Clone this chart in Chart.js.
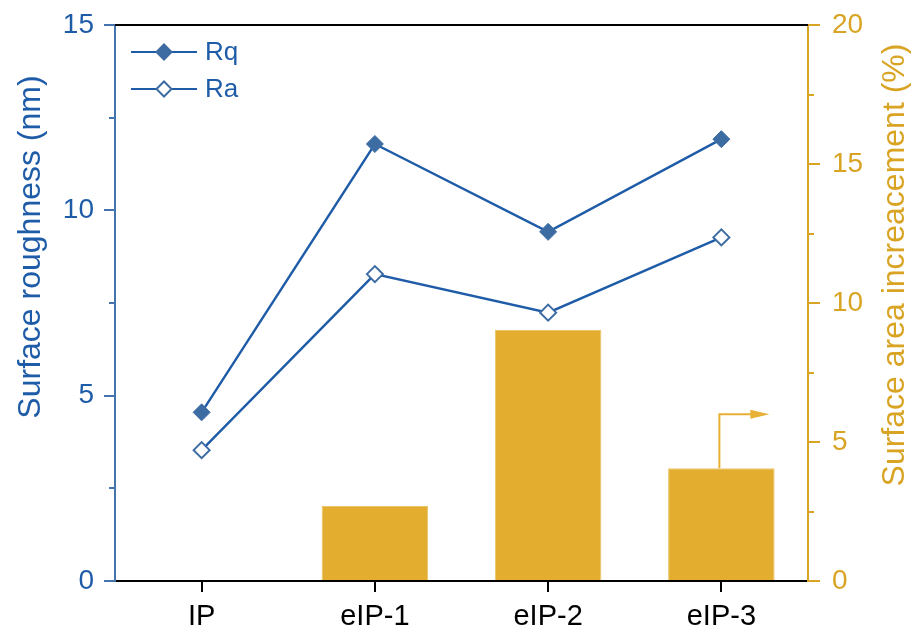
<!DOCTYPE html>
<html>
<head>
<meta charset="utf-8">
<script src="https://cdn.jsdelivr.net/npm/chart.js@4.4.1/dist/chart.umd.min.js"></script>
<style>
  html, body { margin: 0; padding: 0; background: #ffffff; }
  #wrap { width: 920px; height: 637px; }
</style>
</head>
<body>
<div id="wrap"><canvas id="c" width="920" height="637"></canvas></div>
<script>
// Sample categories and measured values
const categories = ['IP', 'eIP-1', 'eIP-2', 'eIP-3'];
const rqValues = [4.55, 11.79, 9.42, 11.92];      // nm
const raValues = [3.53, 8.28, 7.24, 9.27];        // nm
const areaIncrease = [0, 2.70, 9.03, 4.06];       // %
const roughnessTicks = [0, 5, 10, 15];
const roughnessMinorTicks = [2.5, 7.5, 12.5];
const areaTicks = [0, 5, 10, 15, 20];
const areaMinorTicks = [2.5, 7.5, 12.5, 17.5];

const FONT = "'Liberation Sans', Arial, Helvetica, sans-serif";
const BLUE_LINE = '#1f5ca8';
const BLUE_MARK = '#3d6ca3';
const BLUE_TEXT = '#1f5ca8';
const BLUE_AXIS = '#4374ad';
const GOLD_BAR = '#e3ae2f';
const GOLD_AXIS = '#d9a424';
const GOLD_TEXT = '#d9a424';

// Frame, minor ticks, axis titles, legend and the arrow tying the bars to the right axis
const decorations = {
  id: 'decorations',
  afterDatasetsDraw(chart) {
    const ctx = chart.ctx;
    const area = chart.chartArea;
    const y = chart.scales.y;
    const y1 = chart.scales.y1;
    ctx.save();

    // top frame line
    ctx.strokeStyle = '#000000';
    ctx.lineWidth = 2;
    ctx.beginPath();
    ctx.moveTo(area.left, area.top);
    ctx.lineTo(area.right, area.top);
    ctx.stroke();

    // minor ticks
    ctx.lineWidth = 2;
    ctx.strokeStyle = BLUE_AXIS;
    roughnessMinorTicks.forEach(v => {
      const py = Math.round(y.getPixelForValue(v));
      ctx.beginPath();
      ctx.moveTo(area.left - 6, py);
      ctx.lineTo(area.left, py);
      ctx.stroke();
    });
    ctx.strokeStyle = GOLD_AXIS;
    areaMinorTicks.forEach(v => {
      const py = Math.round(y1.getPixelForValue(v));
      ctx.beginPath();
      ctx.moveTo(area.right, py);
      ctx.lineTo(area.right + 6, py);
      ctx.stroke();
    });

    // axis titles
    ctx.font = '32px ' + FONT;
    ctx.textAlign = 'center';
    ctx.textBaseline = 'middle';
    ctx.fillStyle = BLUE_TEXT;
    ctx.save();
    ctx.translate(31, 247);
    ctx.rotate(-Math.PI / 2);
    ctx.fillText('Surface roughness (nm)', 0, 0);
    ctx.restore();
    ctx.fillStyle = GOLD_TEXT;
    ctx.save();
    ctx.translate(895, 265);
    ctx.rotate(-Math.PI / 2);
    ctx.fillText('Surface area increacement (%)', 0, 0);
    ctx.restore();

    // legend
    const legendRows = [
      { label: chart.data.datasets[0].label, fill: BLUE_MARK, y: area.top + 27 },
      { label: chart.data.datasets[1].label, fill: '#ffffff', y: area.top + 64 }
    ];
    legendRows.forEach(row => {
      const x0 = area.left + 16, x1 = area.left + 82, xm = area.left + 49;
      ctx.strokeStyle = BLUE_LINE;
      ctx.lineWidth = 2;
      ctx.beginPath();
      ctx.moveTo(x0, row.y);
      ctx.lineTo(x1, row.y);
      ctx.stroke();
      const r = 7.5;
      ctx.beginPath();
      ctx.moveTo(xm - r, row.y);
      ctx.lineTo(xm, row.y - r);
      ctx.lineTo(xm + r, row.y);
      ctx.lineTo(xm, row.y + r);
      ctx.closePath();
      ctx.fillStyle = row.fill;
      ctx.fill();
      ctx.strokeStyle = BLUE_MARK;
      ctx.lineWidth = 2;
      ctx.stroke();
      ctx.fillStyle = BLUE_TEXT;
      ctx.font = '26px ' + FONT;
      ctx.textAlign = 'left';
      ctx.textBaseline = 'middle';
      ctx.fillText(row.label, area.left + 90, row.y + 1);
    });

    // arrow from the last bar pointing to the right-hand axis
    const barMeta = chart.getDatasetMeta(2);
    const bar = barMeta.data[barMeta.data.length - 1];
    if (bar) {
      const ax = bar.x - 2;
      const ayTop = bar.y - 54;
      const tipX = bar.x + 48;
      ctx.strokeStyle = '#e6b134';
      ctx.fillStyle = '#e6b134';
      ctx.lineWidth = 2;
      ctx.beginPath();
      ctx.moveTo(ax, bar.y);
      ctx.lineTo(ax, ayTop);
      ctx.lineTo(tipX - 16, ayTop);
      ctx.stroke();
      ctx.beginPath();
      ctx.moveTo(tipX, ayTop);
      ctx.lineTo(tipX - 19, ayTop - 4.5);
      ctx.lineTo(tipX - 19, ayTop + 4.5);
      ctx.closePath();
      ctx.fill();
    }
    ctx.restore();
  }
};

new Chart(document.getElementById('c'), {
  data: {
    labels: categories,
    datasets: [
      {
        type: 'line',
        label: 'Rq',
        data: rqValues,
        yAxisID: 'y',
        borderColor: BLUE_LINE,
        borderWidth: 2.4,
        pointStyle: 'rectRot',
        pointRadius: 8.5,
        pointBackgroundColor: BLUE_MARK,
        pointBorderColor: BLUE_MARK,
        pointBorderWidth: 1,
        tension: 0,
        order: 1
      },
      {
        type: 'line',
        label: 'Ra',
        data: raValues,
        yAxisID: 'y',
        borderColor: BLUE_LINE,
        borderWidth: 2.4,
        pointStyle: 'rectRot',
        pointRadius: 8,
        pointBackgroundColor: '#ffffff',
        pointBorderColor: BLUE_MARK,
        pointBorderWidth: 2,
        tension: 0,
        order: 1
      },
      {
        type: 'bar',
        label: 'Surface area increacement',
        data: areaIncrease,
        yAxisID: 'y1',
        backgroundColor: GOLD_BAR,
        borderColor: '#ebc46a',
        borderWidth: 1,
        barPercentage: 0.615,
        categoryPercentage: 1,
        order: 2
      }
    ]
  },
  options: {
    responsive: false,
    animation: false,
    layout: { padding: { top: 25, left: 0, right: 0, bottom: 0 } },
    plugins: {
      legend: { display: false },
      tooltip: { enabled: false }
    },
    scales: {
      x: {
        type: 'category',
        offset: true,
        grid: {
          offset: false,
          drawOnChartArea: false,
          drawTicks: true,
          tickLength: 11,
          color: '#000000',
          lineWidth: 2
        },
        border: { color: '#000000', width: 2 },
        ticks: {
          color: '#000000',
          font: { family: FONT, size: 29 },
          padding: 8,
          maxRotation: 0
        },
        afterFit(s) { s.height = 56; }
      },
      y: {
        position: 'left',
        min: 0,
        max: 15,
        afterBuildTicks(s) { s.ticks = roughnessTicks.map(v => ({ value: v })); },
        grid: {
          drawOnChartArea: false,
          drawTicks: true,
          tickLength: 11,
          color: BLUE_AXIS,
          lineWidth: 2
        },
        border: { color: BLUE_AXIS, width: 2 },
        ticks: {
          color: BLUE_TEXT,
          font: { family: FONT, size: 28, lineHeight: 0.8 },
          padding: 10
        },
        afterFit(s) { s.width = 115; }
      },
      y1: {
        position: 'right',
        min: 0,
        max: 20,
        afterBuildTicks(s) { s.ticks = areaTicks.map(v => ({ value: v })); },
        grid: {
          drawOnChartArea: false,
          drawTicks: true,
          tickLength: 12,
          color: GOLD_AXIS,
          lineWidth: 2
        },
        border: { color: GOLD_AXIS, width: 2 },
        ticks: {
          color: GOLD_TEXT,
          font: { family: FONT, size: 28, lineHeight: 0.8 },
          padding: 12
        },
        afterFit(s) { s.width = 112; }
      }
    }
  },
  plugins: [decorations]
});
</script>
</body>
</html>
